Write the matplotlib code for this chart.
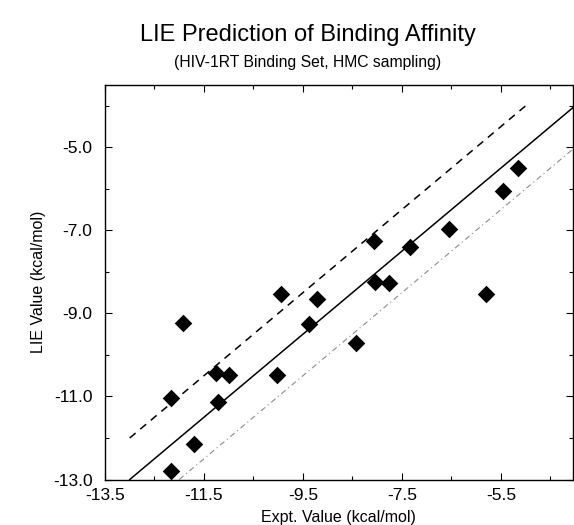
import matplotlib
matplotlib.use("Agg")
import matplotlib.pyplot as plt
import numpy as np
from matplotlib.ticker import MultipleLocator, FixedLocator

plt.rcParams['font.family'] = ['Liberation Sans', 'DejaVu Sans']

expt = [-12.17, -12.17, -11.92, -11.70, -11.26, -11.21, -10.99, -10.03, -9.95, -9.37,
        -9.22, -8.42, -8.07, -8.05, -7.76, -7.33, -6.54, -5.80, -5.45, -5.15]
lie = [-12.79, -11.03, -9.23, -12.14, -10.44, -11.13, -10.48, -10.48, -8.53, -9.26,
       -8.66, -9.71, -7.25, -8.25, -8.28, -7.40, -6.96, -8.53, -6.05, -5.51]

xticks = [-13.5, -11.5, -9.5, -7.5, -5.5]
yticks = [-13.0, -11.0, -9.0, -7.0, -5.0]

# reference lines: y = x + offset, over given x ranges
ideal_x = [-13.0, -4.05]
upper_x = [-13.0, -5.0]
lower_x = [-12.0, -4.05]

fig = plt.figure(figsize=(5.74, 5.25), dpi=100)
ax = fig.add_axes([105/574, 45.5/525, (572.7-105)/574, (479.5-85)/525])

ax.plot(ideal_x, ideal_x, color='black', lw=1.1)
ax.plot(upper_x, [v + 1 for v in upper_x], color='black', lw=1.1, dashes=(5, 4))
ax.plot(lower_x, [v - 1 for v in lower_x], color='#8c8c8c', lw=0.8, dashes=(5, 3, 1, 3))
ax.scatter(expt, lie, marker='D', s=80, color='black', zorder=3, linewidths=0)

ax.set_xlim(-13.5, -4.05)
ax.set_ylim(-13.0, -3.5)
ax.xaxis.set_major_locator(FixedLocator(xticks))
ax.xaxis.set_minor_locator(MultipleLocator(1.0, offset=0.5))
ax.yaxis.set_major_locator(FixedLocator(yticks))
ax.yaxis.set_minor_locator(MultipleLocator(1.0))
ax.set_xticklabels([f"{v:.1f}" for v in xticks])
ax.set_yticklabels([f"{v:.1f}" for v in yticks])
ax.tick_params(which='both', direction='in', top=True, right=True, labelsize=12.5, width=0.8)
ax.tick_params(which='major', length=5)
ax.tick_params(which='minor', length=3)
ax.tick_params(axis='x', which='major', pad=6)
ax.tick_params(axis='y', which='major', pad=9)
for s in ax.spines.values():
    s.set_linewidth(1.0)

ax.set_xlabel('Expt. Value (kcal/mol)', fontsize=11.5, labelpad=5)
ax.set_ylabel('LIE Value (kcal/mol)', fontsize=11.5, labelpad=5)

fig.text(308/574, 1 - 35/525, 'LIE Prediction of Binding Affinity', ha='center', va='center', fontsize=17)
fig.text(308/574, 1 - 62/525, '(HIV-1RT Binding Set, HMC sampling)', ha='center', va='center', fontsize=11.3)

fig.savefig('out.png', dpi=100)
